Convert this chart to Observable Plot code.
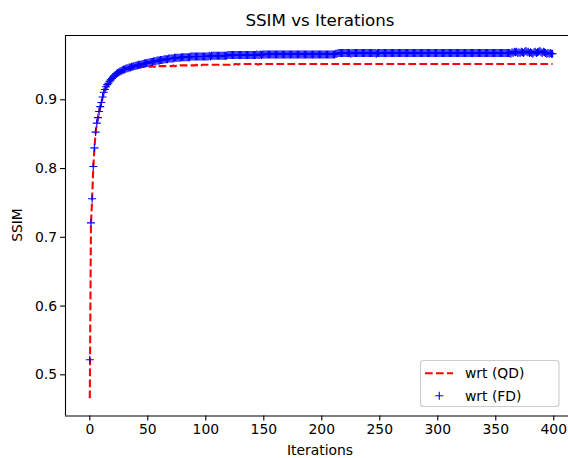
<!DOCTYPE html>
<html><head><meta charset="utf-8">
<script src="https://cdn.jsdelivr.net/npm/d3@7"></script>
<script src="https://cdn.jsdelivr.net/npm/@observablehq/plot@0.6"></script>
<style>
html,body{margin:0;padding:0;background:#fff;overflow:hidden;}
#chart svg{overflow:hidden;display:block;}
</style>
</head><body><div id="chart"></div>
<script>
const title = "SSIM vs Iterations";
const xLabel = "Iterations";
const yLabel = "SSIM";
const seriesNames = ["wrt (QD)", "wrt (FD)"];
const xTicks = [0, 50, 100, 150, 200, 250, 300, 350, 400];
const yTicks = [0.5, 0.6, 0.7, 0.8, 0.9];
const xDomain = [-20.95, 412.7];
const yDomain = [0.4401, 0.9935];

// SSIM per iteration, QD reference (red dashed line)
const ssimQD = [
0.466,0.720,0.755,0.802,0.829,0.852,0.865,0.873,0.882,0.889,
0.895,0.903,0.910,0.914,0.918,0.921,0.923,0.926,0.928,0.930,
0.932,0.933,0.935,0.936,0.937,0.938,0.939,0.940,0.941,0.942,
0.942,0.943,0.944,0.944,0.945,0.945,0.946,0.946,0.946,0.947,
0.947,0.947,0.947,0.948,0.948,0.948,0.948,0.948,0.948,0.948,
0.948,0.948,0.948,0.948,0.949,0.948,0.948,0.949,0.948,0.949,
0.949,0.949,0.949,0.949,0.949,0.949,0.949,0.949,0.949,0.949,
0.949,0.949,0.950,0.949,0.949,0.950,0.950,0.949,0.950,0.950,
0.950,0.950,0.950,0.950,0.950,0.950,0.950,0.950,0.950,0.950,
0.950,0.950,0.951,0.950,0.950,0.951,0.950,0.951,0.951,0.951,
0.951,0.951,0.951,0.951,0.951,0.951,0.951,0.951,0.951,0.951,
0.951,0.951,0.951,0.951,0.951,0.951,0.951,0.951,0.951,0.951,
0.951,0.951,0.952,0.951,0.951,0.952,0.952,0.952,0.951,0.952,
0.952,0.952,0.952,0.952,0.952,0.952,0.952,0.952,0.952,0.952,
0.952,0.952,0.952,0.952,0.952,0.951,0.952,0.952,0.952,0.952,
0.952,0.952,0.952,0.952,0.952,0.952,0.952,0.952,0.952,0.952,
0.952,0.952,0.952,0.952,0.952,0.952,0.952,0.952,0.952,0.952,
0.952,0.952,0.952,0.952,0.952,0.952,0.952,0.952,0.952,0.952,
0.952,0.952,0.952,0.952,0.952,0.952,0.952,0.952,0.952,0.952,
0.952,0.952,0.952,0.952,0.952,0.952,0.952,0.952,0.952,0.952,
0.952,0.952,0.952,0.952,0.952,0.952,0.952,0.952,0.952,0.952,
0.952,0.952,0.952,0.952,0.952,0.952,0.952,0.952,0.952,0.952,
0.952,0.952,0.952,0.952,0.952,0.952,0.952,0.952,0.952,0.952,
0.952,0.952,0.952,0.952,0.952,0.952,0.952,0.952,0.952,0.952,
0.952,0.952,0.952,0.952,0.952,0.952,0.952,0.952,0.952,0.952,
0.952,0.952,0.952,0.952,0.952,0.952,0.952,0.952,0.952,0.952,
0.952,0.952,0.952,0.952,0.952,0.952,0.952,0.952,0.952,0.952,
0.952,0.952,0.952,0.952,0.952,0.952,0.952,0.952,0.952,0.952,
0.952,0.952,0.952,0.952,0.952,0.952,0.952,0.952,0.952,0.952,
0.952,0.952,0.952,0.952,0.952,0.952,0.952,0.952,0.952,0.952,
0.952,0.952,0.952,0.952,0.952,0.952,0.952,0.952,0.952,0.952,
0.952,0.952,0.952,0.952,0.952,0.952,0.952,0.952,0.952,0.952,
0.952,0.952,0.952,0.952,0.952,0.952,0.952,0.952,0.952,0.952,
0.952,0.952,0.952,0.952,0.952,0.952,0.952,0.952,0.952,0.952,
0.952,0.952,0.952,0.952,0.952,0.952,0.952,0.952,0.952,0.952,
0.952,0.952,0.952,0.952,0.952,0.952,0.952,0.952,0.952,0.952,
0.952,0.952,0.952,0.952,0.952,0.952,0.952,0.952,0.952,0.952,
0.952,0.952,0.952,0.952,0.952,0.952,0.952,0.952,0.952,0.952,
0.952,0.952,0.952,0.952,0.952,0.952,0.952,0.952,0.952,0.952,
0.952,0.952,0.952,0.952,0.952,0.952,0.952,0.952,0.952,0.952
];

// SSIM per iteration, FD reference (blue + markers)
const ssimFD = [
0.522,0.721,0.756,0.803,0.830,0.853,0.866,0.874,0.883,0.890,
0.896,0.904,0.911,0.915,0.919,0.922,0.924,0.927,0.929,0.931,
0.933,0.935,0.936,0.938,0.939,0.940,0.941,0.942,0.943,0.944,
0.944,0.945,0.946,0.946,0.947,0.947,0.948,0.948,0.949,0.949,
0.950,0.950,0.951,0.951,0.951,0.952,0.952,0.953,0.953,0.953,
0.954,0.954,0.955,0.955,0.955,0.956,0.956,0.956,0.957,0.957,
0.957,0.958,0.958,0.958,0.959,0.959,0.959,0.959,0.960,0.960,
0.960,0.960,0.960,0.961,0.961,0.961,0.961,0.961,0.961,0.962,
0.962,0.962,0.962,0.962,0.962,0.962,0.962,0.963,0.963,0.963,
0.963,0.963,0.963,0.963,0.963,0.963,0.963,0.963,0.963,0.963,
0.963,0.963,0.963,0.964,0.963,0.964,0.964,0.964,0.964,0.964,
0.964,0.964,0.964,0.964,0.964,0.964,0.964,0.964,0.964,0.965,
0.965,0.965,0.965,0.965,0.965,0.965,0.965,0.965,0.965,0.965,
0.965,0.965,0.965,0.965,0.965,0.965,0.965,0.965,0.965,0.965,
0.965,0.965,0.965,0.965,0.966,0.965,0.965,0.966,0.965,0.966,
0.966,0.966,0.966,0.966,0.966,0.966,0.966,0.966,0.966,0.966,
0.966,0.966,0.966,0.966,0.966,0.966,0.966,0.966,0.966,0.966,
0.966,0.966,0.966,0.966,0.966,0.966,0.966,0.966,0.966,0.966,
0.966,0.966,0.966,0.966,0.966,0.966,0.966,0.966,0.966,0.966,
0.966,0.966,0.966,0.966,0.966,0.966,0.966,0.966,0.966,0.966,
0.966,0.966,0.966,0.966,0.966,0.966,0.966,0.966,0.966,0.966,
0.966,0.966,0.967,0.967,0.968,0.968,0.968,0.968,0.968,0.968,
0.968,0.968,0.968,0.968,0.968,0.967,0.968,0.968,0.968,0.968,
0.968,0.968,0.968,0.968,0.968,0.968,0.968,0.968,0.968,0.968,
0.968,0.968,0.968,0.968,0.968,0.968,0.968,0.967,0.968,0.968,
0.968,0.968,0.968,0.968,0.968,0.968,0.968,0.968,0.968,0.968,
0.968,0.968,0.968,0.968,0.968,0.968,0.968,0.968,0.968,0.968,
0.968,0.968,0.968,0.968,0.968,0.968,0.968,0.968,0.968,0.968,
0.968,0.968,0.968,0.968,0.968,0.968,0.968,0.968,0.968,0.968,
0.968,0.968,0.968,0.968,0.968,0.968,0.968,0.968,0.968,0.968,
0.968,0.968,0.968,0.968,0.968,0.968,0.968,0.968,0.968,0.968,
0.968,0.968,0.968,0.968,0.968,0.968,0.968,0.968,0.968,0.968,
0.968,0.968,0.968,0.968,0.968,0.968,0.968,0.968,0.968,0.968,
0.968,0.968,0.968,0.968,0.968,0.968,0.968,0.968,0.968,0.968,
0.968,0.968,0.968,0.968,0.968,0.968,0.968,0.968,0.968,0.968,
0.968,0.968,0.968,0.968,0.968,0.968,0.968,0.968,0.968,0.968,
0.968,0.968,0.968,0.967,0.969,0.968,0.970,0.969,0.970,0.968,
0.969,0.968,0.970,0.969,0.968,0.970,0.971,0.969,0.970,0.968,
0.969,0.968,0.967,0.969,0.970,0.968,0.969,0.970,0.971,0.969,
0.968,0.970,0.969,0.968,0.967,0.968,0.967,0.968,0.967,0.967
];

const qd = ssimQD.map((v, i) => ({iter: i, ssim: v}));
const fd = ssimFD.map((v, i) => ({iter: i, ssim: v}));

const plusSymbol = {
  draw(ctx, size) {
    const r = Math.sqrt(size / Math.PI);
    ctx.moveTo(-r, 0); ctx.lineTo(r, 0);
    ctx.moveTo(0, -r); ctx.lineTo(0, r);
  }
};

const W = 568, H = 458;
const FONT = "DejaVu Sans";

const chart = Plot.plot({
  width: W, height: H,
  marginLeft: 65, marginRight: 0, marginTop: 35, marginBottom: 42.5,
  style: {fontFamily: FONT, fontSize: "13.9px", color: "black", background: "white"},
  x: {domain: xDomain},
  y: {domain: yDomain},
  marks: [
    Plot.line(qd, {x: "iter", y: "ssim", stroke: "red", strokeWidth: 2.08, strokeDasharray: "7.7,3.3", strokeLinecap: "butt"}),
    Plot.dot(fd, {x: "iter", y: "ssim", symbol: plusSymbol, r: 4, stroke: "blue", fill: "none", strokeWidth: 1.1}),
    Plot.ruleX([xDomain[0]], {stroke: "black", strokeWidth: 1.1}),
    Plot.ruleY(yDomain, {stroke: "black", strokeWidth: 1.1}),
    Plot.axisX({ticks: xTicks, tickSize: 4.9, tickPadding: 3.5, label: null, strokeWidth: 1.1}),
    Plot.axisY({ticks: yTicks, tickFormat: d3.format(".1f"), tickSize: 4.9, tickPadding: 3.5, label: null, strokeWidth: 1.1})
  ]
});
document.getElementById("chart").appendChild(chart);

const svg = d3.select(chart);
const cx = (65 + 575) / 2;
svg.append("text").attr("x", cx).attr("y", 25.5).attr("text-anchor", "middle")
  .attr("font-family", FONT).attr("font-size", "16.7px").attr("fill", "black").text(title);
svg.append("text").attr("x", cx).attr("y", 455).attr("text-anchor", "middle")
  .attr("font-family", FONT).attr("font-size", "13.9px").attr("fill", "black").text(xLabel);
svg.append("text").attr("transform", "translate(22,225) rotate(-90)").attr("text-anchor", "middle")
  .attr("font-family", FONT).attr("font-size", "13.9px").attr("fill", "black").text(yLabel);

// legend
const lg = svg.append("g");
lg.append("rect").attr("x", 420.5).attr("y", 360.5).attr("width", 138.5).attr("height", 46)
  .attr("rx", 3).attr("fill", "white").attr("fill-opacity", 0.8).attr("stroke", "#cccccc").attr("stroke-width", 1.1);
lg.append("line").attr("x1", 425).attr("x2", 453).attr("y1", 373.3).attr("y2", 373.3)
  .attr("stroke", "red").attr("stroke-width", 2.08).attr("stroke-dasharray", "7.7,3.3");
lg.append("path").attr("d", "M435.3,395.7H443.3M439.3,391.7V399.7").attr("stroke", "blue").attr("stroke-width", 1.1).attr("fill", "none");
[[seriesNames[0], 373.3], [seriesNames[1], 395.7]].forEach(([t, y]) => {
  lg.append("text").attr("x", 465).attr("y", y).attr("dy", "0.36em").attr("text-anchor", "start")
    .attr("font-family", FONT).attr("font-size", "13.9px").attr("fill", "black").text(t);
});
</script>
</body></html>
